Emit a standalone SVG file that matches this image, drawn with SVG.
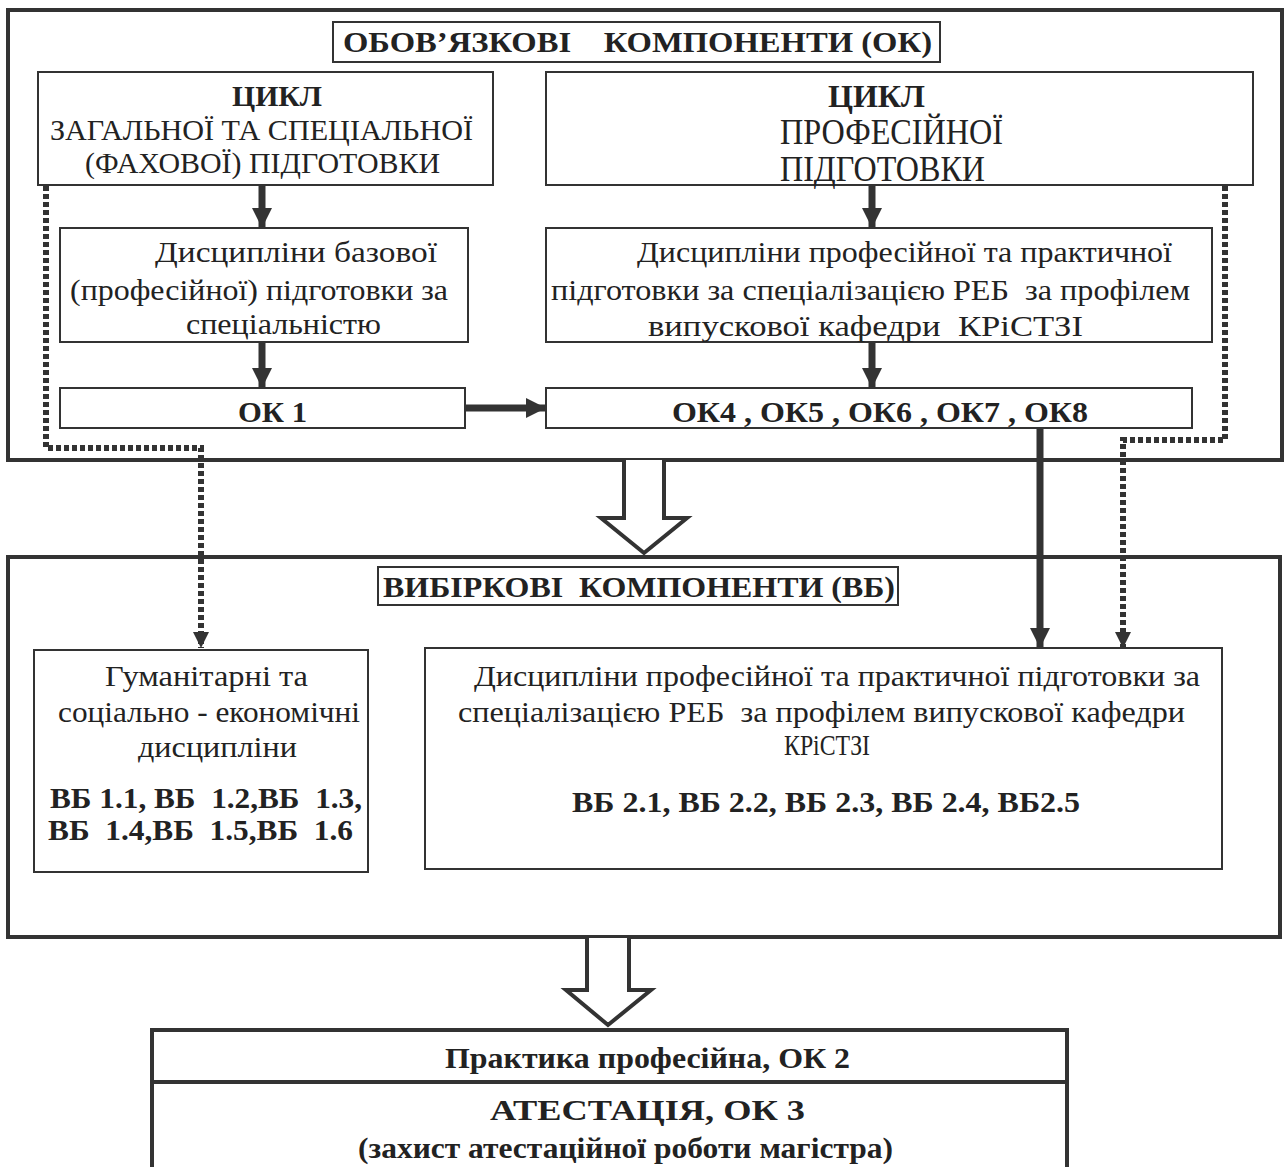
<svg xmlns="http://www.w3.org/2000/svg" width="1288" height="1167" viewBox="0 0 1288 1167">
<style>
.t{font-family:"Liberation Serif","Times New Roman","DejaVu Serif",serif;font-size:30px;fill:#222;white-space:pre}
.b{font-weight:bold}
.big{font-size:35px}
.outer{fill:none;stroke:#333;stroke-width:4}
.box{fill:#fff;stroke:#333;stroke-width:2}
.thick{stroke:#333;stroke-width:7;fill:none}
.dot{stroke:#333;stroke-width:6;fill:none;stroke-dasharray:5,3}
.hollow{fill:#fff;stroke:#333;stroke-width:4;stroke-linejoin:miter}
</style>
<defs>
<marker id="ah" viewBox="0 0 20 20" refX="20" refY="10" markerWidth="20" markerHeight="20" markerUnits="userSpaceOnUse" orient="auto"><path d="M0,0 L20,10 L0,20 z" fill="#333"/></marker>
<marker id="ahs" viewBox="0 0 20 20" refX="20" refY="10" markerWidth="18" markerHeight="16" markerUnits="userSpaceOnUse" orient="auto"><path d="M0,0 L20,10 L0,20 z" fill="#333"/></marker>
</defs>
<rect width="1288" height="1167" fill="#fff"/>

<g id="box-ok"><rect class="outer" x="8" y="10" width="1274" height="450"/></g>
<g id="box-vb"><rect class="outer" x="8" y="557" width="1272" height="380"/></g>

<g id="connectors">
<line class="thick" x1="262" y1="186" x2="262" y2="228" marker-end="url(#ah)"/>
<line class="thick" x1="262" y1="343" x2="262" y2="388" marker-end="url(#ah)"/>
<line class="thick" x1="872" y1="186" x2="872" y2="228" marker-end="url(#ah)"/>
<line class="thick" x1="872" y1="343" x2="872" y2="388" marker-end="url(#ah)"/>
<line class="thick" x1="466" y1="408" x2="546" y2="408" marker-end="url(#ah)"/>
<line class="thick" x1="1040" y1="429" x2="1040" y2="648" marker-end="url(#ah)"/>
<polyline class="dot" points="46,186 46,448 201,448 201,648" marker-end="url(#ahs)"/>
<polyline class="dot" points="1225,186 1225,440 1123,440 1123,648" marker-end="url(#ahs)"/>
<polyline class="hollow" points="624,460 624,518 601,518 644,553 687,518 664,518 664,460"/>
<polyline class="hollow" points="587,938 587,990 566,990 608,1025 651,990 629,990 629,938"/>
</g>

<g id="n-ok-header">
<rect class="box" x="333" y="22" width="607" height="40"/>
<text class="t b" xml:space="preserve" x="343" y="52" textLength="589" lengthAdjust="spacingAndGlyphs">ОБОВ’ЯЗКОВІ    КОМПОНЕНТИ (ОК)</text>
</g>

<g id="n-cycle-general">
<rect class="box" x="38" y="72" width="455" height="113"/>
<text class="t b" x="232" y="106" textLength="90" lengthAdjust="spacingAndGlyphs">ЦИКЛ</text>
<text class="t" x="50" y="140" textLength="423" lengthAdjust="spacingAndGlyphs">ЗАГАЛЬНОЇ ТА СПЕЦІАЛЬНОЇ</text>
<text class="t" x="85" y="173" textLength="355" lengthAdjust="spacingAndGlyphs">(ФАХОВОЇ) ПІДГОТОВКИ</text>
</g>

<g id="n-cycle-prof">
<rect class="box" x="546" y="72" width="707" height="113"/>
<text class="t b" x="828" y="107" textLength="97" lengthAdjust="spacingAndGlyphs" style="font-size:32px">ЦИКЛ</text>
<text class="t big" x="780" y="144" textLength="223" lengthAdjust="spacingAndGlyphs">ПРОФЕСІЙНОЇ</text>
<text class="t big" x="780" y="181" textLength="205" lengthAdjust="spacingAndGlyphs">ПІДГОТОВКИ</text>
</g>

<g id="n-disc-base">
<rect class="box" x="60" y="228" width="408" height="114"/>
<text class="t" x="155" y="262" textLength="282" lengthAdjust="spacingAndGlyphs">Дисципліни базової</text>
<text class="t" x="70" y="300" textLength="378" lengthAdjust="spacingAndGlyphs">(професійної) підготовки за</text>
<text class="t" x="186" y="334" textLength="195" lengthAdjust="spacingAndGlyphs">спеціальністю</text>
</g>

<g id="n-disc-prof">
<rect class="box" x="546" y="228" width="666" height="114"/>
<text class="t" x="637" y="262" textLength="535" lengthAdjust="spacingAndGlyphs">Дисципліни професійної та практичної</text>
<text class="t" xml:space="preserve" x="551" y="300" textLength="639" lengthAdjust="spacingAndGlyphs">підготовки за спеціалізацією РЕБ  за профілем</text>
<text class="t" xml:space="preserve" x="648" y="336" textLength="435" lengthAdjust="spacingAndGlyphs">випускової кафедри  КРіСТЗІ</text>
</g>

<g id="n-ok1">
<rect class="box" x="60" y="388" width="405" height="40"/>
<text class="t b" x="238" y="422" textLength="69" lengthAdjust="spacingAndGlyphs">ОК 1</text>
</g>

<g id="n-ok48">
<rect class="box" x="546" y="388" width="646" height="40"/>
<text class="t b" x="672" y="422" textLength="416" lengthAdjust="spacingAndGlyphs">ОК4 , ОК5 , ОК6 , ОК7 , ОК8</text>
</g>

<g id="n-vb-header">
<rect class="box" x="378" y="567" width="520" height="38"/>
<text class="t b" xml:space="preserve" x="383" y="597" textLength="512" lengthAdjust="spacingAndGlyphs">ВИБІРКОВІ  КОМПОНЕНТИ (ВБ)</text>
</g>

<g id="n-hum">
<rect class="box" x="34" y="650" width="334" height="222"/>
<text class="t" x="105" y="686" textLength="203" lengthAdjust="spacingAndGlyphs">Гуманітарні та</text>
<text class="t" x="58" y="722" textLength="302" lengthAdjust="spacingAndGlyphs">соціально - економічні</text>
<text class="t" x="138" y="757" textLength="159" lengthAdjust="spacingAndGlyphs">дисципліни</text>
<text class="t b" xml:space="preserve" x="50" y="808" textLength="312" lengthAdjust="spacingAndGlyphs">ВБ 1.1, ВБ  1.2,ВБ  1.3,</text>
<text class="t b" xml:space="preserve" x="48" y="840" textLength="305" lengthAdjust="spacingAndGlyphs">ВБ  1.4,ВБ  1.5,ВБ  1.6</text>
</g>

<g id="n-vb-prof">
<rect class="box" x="425" y="648" width="797" height="221"/>
<text class="t" x="474" y="686" textLength="726" lengthAdjust="spacingAndGlyphs">Дисципліни професійної та практичної підготовки за</text>
<text class="t" xml:space="preserve" x="458" y="722" textLength="727" lengthAdjust="spacingAndGlyphs">спеціалізацією РЕБ  за профілем випускової кафедри</text>
<text class="t" x="784" y="755" textLength="86" lengthAdjust="spacingAndGlyphs">КРіСТЗІ</text>
<text class="t b" x="572" y="812" textLength="508" lengthAdjust="spacingAndGlyphs">ВБ 2.1, ВБ 2.2, ВБ 2.3, ВБ 2.4, ВБ2.5</text>
</g>

<g id="n-final">
<rect x="152" y="1030" width="915" height="150" fill="#fff" stroke="#333" stroke-width="4"/>
<line x1="152" y1="1082" x2="1067" y2="1082" stroke="#333" stroke-width="4"/>
<text class="t b" x="445" y="1068" textLength="405" lengthAdjust="spacingAndGlyphs">Практика професійна, ОК 2</text>
<text class="t b" x="490" y="1120" textLength="315" lengthAdjust="spacingAndGlyphs">АТЕСТАЦІЯ, ОК 3</text>
<text class="t b" x="358" y="1158" textLength="535" lengthAdjust="spacingAndGlyphs">(захист атестаційної роботи магістра)</text>
</g>
</svg>
